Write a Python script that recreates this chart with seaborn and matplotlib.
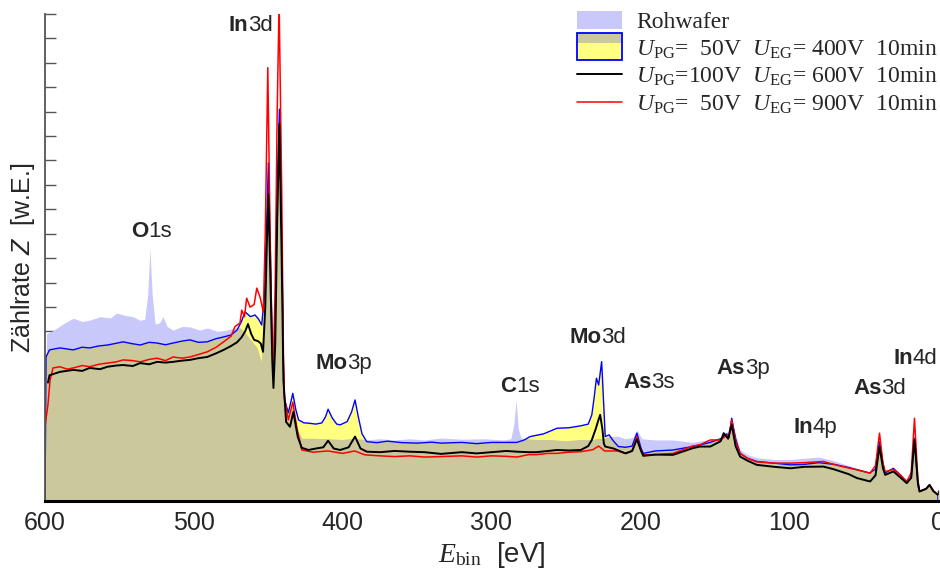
import matplotlib
matplotlib.use("Agg")
import matplotlib.pyplot as plt
import seaborn as sns
from matplotlib.patches import Rectangle, Patch
from matplotlib.lines import Line2D
from matplotlib.legend_handler import HandlerBase
from matplotlib.ticker import MultipleLocator

# Spectra (E_bin in eV, counts in arbitrary units)
e_roh = [600, 599, 594, 588, 581, 575, 570, 563, 556, 552, 546, 541, 536, 533, 531, 529.5, 528, 526,
         523, 520.7, 518, 514, 508, 502.6, 496, 491, 484, 477.7, 472, 469, 466, 461, 457, 454.4, 452,
         450, 448, 446.5, 445, 442.7, 440.5, 439, 436.5, 433.5, 430, 427, 420, 410, 400, 392, 385, 375,
         365, 355, 345, 334, 320, 305, 292, 287, 285, 283.5, 282, 280, 270, 260, 250, 240, 232, 228,
         224, 220, 215, 210, 205, 202.3, 199, 190, 178, 165, 155, 146, 142, 138.6, 133, 128, 121.7,
         110, 100, 90, 80, 70, 60, 54.5, 46, 42, 39.3, 37, 35.5, 30, 25, 21, 18, 15.8, 13.5, 12.4, 8,
         5.7, 3, 0]
z_roh = [0.0, 6.9, 7.05, 7.3, 7.54, 7.4, 7.46, 7.6, 7.55, 7.75, 7.65, 7.6, 7.45, 7.5, 8.5, 10.4, 8.5,
         7.3, 7.35, 7.6, 7.2, 7.05, 7.2, 7.18, 7.05, 7.14, 7.0, 7.05, 7.15, 7.14, 7.0, 6.6, 6.3, 5.75,
         8.5, 12.5, 7.0, 4.5, 8.0, 14.5, 6.0, 3.9, 3.3, 3.9, 2.9, 2.6, 2.6, 2.58, 2.55, 2.6, 2.55, 2.6,
         2.55, 2.6, 2.55, 2.63, 2.58, 2.6, 2.55, 2.6, 3.2, 4.19, 3.0, 2.6, 2.55, 2.55, 2.5, 2.55, 2.55,
         2.6, 2.6, 2.7, 2.7, 2.6, 2.65, 2.95, 2.6, 2.55, 2.55, 2.45, 2.55, 2.65, 2.85, 3.3, 2.15, 1.95,
         1.82, 1.75, 1.75, 1.8, 1.85, 1.7, 1.5, 1.4, 1.2, 1.3, 2.3, 1.55, 1.2, 1.35, 1.1, 0.8, 1.0, 2.5,
         0.7, 0.44, 0.55, 0.7, 0.45, 0.3]

e_400 = [600, 599.3, 597, 590, 581, 575, 570, 564, 558, 553, 547.5, 542, 536, 530, 524.7, 519, 514,
         508, 502.6, 497, 491, 485, 480, 475, 471, 468, 465.6, 462, 458.9, 456.5, 454.4, 452.5, 451,
         449.9, 448.5, 447.3, 446.5, 445.3, 444, 442.5, 441, 439.8, 439, 436.5, 433.5, 431.5, 429.6,
         426, 423, 418, 414, 411.5, 409.8, 407, 404, 401.7, 397, 394, 391.7, 389.5, 387, 383.8, 377,
         370, 360, 350, 340, 334, 320, 310, 300, 290, 283, 278, 274, 265, 256, 248, 240, 235, 232.6,
         231, 229.5, 228, 226, 225, 223.6, 221, 218, 214.7, 210, 205.5, 202.3, 199.5, 198, 190, 178,
         165, 160, 153, 146, 142, 140.5, 138.6, 136, 133, 128, 121.7, 110, 99, 90, 80, 70, 60, 54.5,
         46, 42, 39.3, 37, 35.5, 30, 25, 21, 18, 15.8, 13.5, 12.4, 8, 5.7, 3, 0]
z_400 = [0.0, 5.95, 6.24, 6.32, 6.24, 6.35, 6.32, 6.4, 6.44, 6.5, 6.57, 6.5, 6.44, 6.55, 6.52, 6.45,
         6.52, 6.6, 6.65, 6.55, 6.57, 6.7, 6.77, 6.85, 7.05, 7.4, 7.8, 7.6, 7.67, 7.5, 7.26, 8.5, 11.5,
         13.9, 10.0, 6.5, 5.55, 7.5, 12.5, 16.1, 11.0, 5.5, 4.19, 3.66, 4.46, 3.8, 3.37, 3.25, 3.24,
         3.2, 3.25, 3.5, 3.81, 3.45, 3.2, 3.17, 3.3, 3.7, 4.19, 3.5, 2.8, 2.48, 2.44, 2.5, 2.44, 2.42,
         2.46, 2.42, 2.45, 2.4, 2.45, 2.45, 2.45, 2.55, 2.69, 2.8, 3.03, 3.05, 3.13, 3.2, 3.58, 4.3,
         5.08, 4.8, 5.76, 4.5, 2.69, 2.76, 2.5, 2.28, 2.25, 2.3, 2.83, 2.2, 2.0, 2.1, 2.14, 2.28, 2.35,
         2.45, 2.6, 2.8, 2.65, 3.44, 2.6, 2.0, 1.8, 1.67, 1.6, 1.53, 1.55, 1.62, 1.55, 1.42, 1.33, 1.2,
         1.35, 2.48, 1.6, 1.2, 1.39, 1.1, 0.8, 1.0, 2.62, 0.7, 0.44, 0.55, 0.71, 0.45, 0.3]

e_600 = [598, 597, 590, 581, 575, 570, 563, 558, 552, 547.5, 541, 536, 530, 524.7, 519, 514, 508,
         502.6, 497, 491, 485, 480, 475, 471, 468, 465.5, 463.6, 461.5, 459.5, 456.9, 455, 453.5, 452,
         451, 449.9, 448.5, 447.3, 446.5, 445.3, 444, 442.5, 441, 439.8, 438, 435.4, 433.1, 430.2,
         427.5, 423, 418, 413, 409.8, 406, 401.7, 396, 391.7, 388, 383.8, 375, 365, 355, 345, 334, 320,
         310, 300, 290, 283, 275, 270, 262, 256, 248, 240, 235, 232.6, 230, 228.5, 227, 225.5, 224.5,
         223.6, 218, 210, 205.5, 202.3, 199.5, 198, 190, 178, 165, 160, 153, 146, 144, 141, 138.6, 136,
         133, 128, 121.7, 110, 99, 90, 77, 70, 60, 54.5, 45.6, 42, 39.3, 37, 35.5, 30, 25, 21, 18, 15.8,
         13.5, 12.4, 8, 5.7, 3, 0]
z_600 = [4.9, 5.2, 5.34, 5.42, 5.38, 5.5, 5.45, 5.55, 5.6, 5.62, 5.58, 5.7, 5.65, 5.75, 5.72, 5.75,
         5.8, 5.83, 5.9, 5.95, 6.1, 6.24, 6.4, 6.55, 6.75, 7.0, 7.3, 6.9, 6.65, 6.6, 6.5, 6.16, 8.0,
         10.5, 12.6, 9.0, 5.8, 4.68, 6.5, 11.5, 15.5, 10.0, 5.0, 3.29, 3.09, 3.7, 2.68, 2.23, 2.14, 2.2,
         2.25, 2.52, 2.2, 2.14, 2.25, 2.69, 2.2, 2.07, 2.05, 2.1, 2.07, 2.05, 1.98, 2.05, 2.0, 2.05,
         2.1, 2.07, 2.05, 2.05, 2.1, 2.14, 2.12, 2.14, 2.3, 2.55, 3.0, 3.3, 3.58, 3.0, 2.4, 2.28, 2.2,
         2.0, 2.1, 2.58, 2.1, 1.9, 1.95, 1.94, 2.21, 2.28, 2.28, 2.5, 2.83, 2.6, 3.17, 2.3, 1.87, 1.7,
         1.53, 1.45, 1.39, 1.45, 1.46, 1.35, 1.15, 0.99, 0.85, 1.1, 2.28, 1.4, 1.12, 1.26, 1.0, 0.78,
         1.0, 2.55, 0.8, 0.44, 0.55, 0.71, 0.45, 0.3]

e_900 = [600, 598, 596.6, 594.6, 590, 585, 581, 575, 570, 564, 558, 552, 547.5, 541, 536, 530, 524.7,
         519, 514, 508, 502.6, 497, 491, 485, 480, 475, 472.3, 469, 467.8, 466, 464.5, 462.2, 459.5,
         457.7, 455.5, 453.3, 452, 451, 450.3, 449, 447.5, 446.5, 445.3, 444, 442.7, 441, 439.8, 439.2,
         436.5, 433.5, 430.9, 427.5, 420, 410, 400, 392, 385, 375, 365, 355, 345, 334, 320, 310, 300,
         290, 283, 275, 270, 262, 256, 248, 240, 232, 228, 224, 215, 210, 205.5, 202.3, 199.5, 198, 190,
         178, 165, 160, 153, 146, 142, 140.5, 138.6, 136, 133, 128, 121.7, 110, 99, 90, 77, 70, 60,
         54.5, 45.6, 42, 39.3, 37, 35.5, 30, 25, 21, 18, 15.8, 13.5, 12.4, 8, 5.7, 3, 0]
z_900 = [3.1, 4.0, 5.0, 5.5, 5.55, 5.45, 5.5, 5.6, 5.55, 5.65, 5.7, 5.75, 5.83, 5.8, 5.75, 5.85, 5.9,
         5.8, 5.95, 5.9, 5.95, 6.05, 6.16, 6.35, 6.57, 6.8, 7.2, 7.34, 7.87, 7.6, 8.36, 7.99, 8.1, 8.77,
         8.4, 7.8, 11.0, 15.0, 17.8, 12.0, 6.5, 5.55, 9.0, 16.0, 20.5, 13.0, 6.0, 4.32, 3.37, 4.1, 3.09,
         2.14, 2.05, 2.1, 2.0, 2.1, 1.94, 1.9, 1.87, 1.9, 1.85, 1.87, 1.9, 1.85, 1.9, 1.88, 1.85, 1.95,
         1.95, 2.0, 2.0, 2.05, 2.07, 2.15, 2.3, 2.1, 2.1, 2.0, 2.1, 2.69, 2.1, 1.94, 1.95, 2.0, 2.3,
         2.35, 2.55, 2.55, 2.75, 2.7, 3.37, 2.5, 2.0, 1.8, 1.65, 1.6, 1.6, 1.62, 1.67, 1.55, 1.4, 1.33,
         1.19, 1.5, 2.83, 1.6, 1.25, 1.35, 1.1, 0.85, 1.2, 3.44, 0.9, 0.44, 0.55, 0.71, 0.45, 0.3]

# peak labels: element (bold), orbital, position of the label
peak_elem = ["In", "O", "Mo", "C", "Mo", "As", "As", "In", "As", "In"]
peak_orb = ["3d", "1s", "3p", "1s", "3d", "3s", "3p", "4p", "3d", "4d"]
peak_e = [476.5, 542.2, 418.5, 294.2, 247.8, 211.6, 149.0, 97.3, 57.0, 30.1]
peak_z = [19.08, 10.65, 5.26, 4.31, 6.33, 4.48, 5.05, 2.63, 4.23, 5.46]

legend_labels = [
    "Rohwafer",
    r"$U_{\mathrm{PG}}$=  50V  $U_{\mathrm{EG}}$= 400V  10min",
    r"$U_{\mathrm{PG}}$=100V  $U_{\mathrm{EG}}$= 600V  10min",
    r"$U_{\mathrm{PG}}$=  50V  $U_{\mathrm{EG}}$= 900V  10min",
]

lavender = "#c8c8fa"
yellow = "#ffff80"
khaki = "#cbc99b"

sns.set_style("ticks")
plt.rcParams["font.family"] = ["Liberation Sans", "DejaVu Sans"]
plt.rcParams["mathtext.fontset"] = "custom"
plt.rcParams["mathtext.rm"] = "Liberation Serif"
plt.rcParams["mathtext.it"] = "Liberation Serif:italic"
plt.rcParams["mathtext.bf"] = "Liberation Sans:italic"   # used for the sans italic Z


class OverlapHandler(HandlerBase):
    # yellow box with blue edge and the khaki overlap band on top
    def create_artists(self, legend, orig, xd, yd, w, h, fontsize, trans):
        y0, hh = yd - 0.3 * h, 1.45 * h
        r1 = Rectangle((xd, y0), w, hh, fc=yellow, ec="none", transform=trans)
        r2 = Rectangle((xd, y0 + 0.65 * hh), w, 0.35 * hh, fc=khaki, ec="none", transform=trans)
        r3 = Rectangle((xd, y0), w, hh, fc="none", ec="blue", lw=1.3, transform=trans)
        return [r1, r2, r3]


fig = plt.figure(figsize=(9.4, 5.73), dpi=100)
ax = fig.add_axes([45 / 940, 72 / 573, 893 / 940, 487 / 573])

# fills: raw wafer, 400V sample, and their overlap in khaki
roh_fill = ax.fill_between(e_roh, z_roh, color=lavender, lw=0, zorder=1)
ax.fill_between(e_400, z_400, color=yellow, lw=0, zorder=1.1)
over = ax.fill_between(e_400, z_400, color=khaki, lw=0, zorder=1.2)
over.set_clip_path(roh_fill.get_paths()[0], ax.transData)
ax.fill_between(e_400, z_400, facecolor="none", edgecolor="blue", lw=1.0, zorder=1.5)

sns.lineplot(x=e_900, y=z_900, ax=ax, color="red", lw=1.1, sort=False, estimator=None, zorder=2)
sns.lineplot(x=e_600, y=z_600, ax=ax, color="black", lw=1.4, sort=False, estimator=None, zorder=2.1)

ax.set_xlim(600, 0)
ax.set_ylim(0.05, 20)

ax.xaxis.set_major_locator(MultipleLocator(100))
ax.xaxis.set_minor_locator(MultipleLocator(50))
ax.yaxis.set_major_locator(MultipleLocator(1))
ax.tick_params(axis="x", which="major", direction="in", length=8, width=1, pad=7, labelsize=18)
ax.tick_params(axis="x", which="minor", direction="in", length=5, width=1)
ax.tick_params(axis="y", direction="in", length=8, width=1, color="#555555", labelleft=False)

for s in ["top", "right"]:
    ax.spines[s].set_visible(False)
ax.spines["left"].set_color("#555555")
ax.spines["left"].set_linewidth(1.3)
ax.spines["bottom"].set_color("black")
ax.spines["bottom"].set_linewidth(2.2)

ax.set_xlabel(r"$E_{\mathrm{bin}}$  [eV]", fontsize=20, labelpad=4)
ax.set_ylabel(r"Zählrate $\mathbf{Z}$  [w.E.]", fontsize=18, labelpad=6)

for el, orb, x, y in zip(peak_elem, peak_orb, peak_e, peak_z):
    t = ax.text(x, y, el, fontsize=16, fontweight="bold", ha="left", va="bottom", zorder=5)
    ax.annotate(orb, xy=(1, 0), xycoords=t, fontsize=16, ha="left", va="bottom", zorder=5)

handles = [
    Patch(facecolor=lavender, edgecolor="none"),
    Patch(facecolor=yellow, edgecolor="blue"),
    Line2D([], [], color="black", lw=1.4),
    Line2D([], [], color="red", lw=1.1),
]
leg = ax.legend(handles, legend_labels, loc="upper left", bbox_to_anchor=(577 / 940, 1 - 11 / 573),
                bbox_transform=fig.transFigure, frameon=False, borderpad=0, borderaxespad=0,
                handlelength=1.9, handleheight=0.82, handletextpad=0.6, labelspacing=0.2,
                prop={"family": "Liberation Serif", "size": 17},
                handler_map={handles[1]: OverlapHandler()})

fig.savefig("out.png", dpi=100)
